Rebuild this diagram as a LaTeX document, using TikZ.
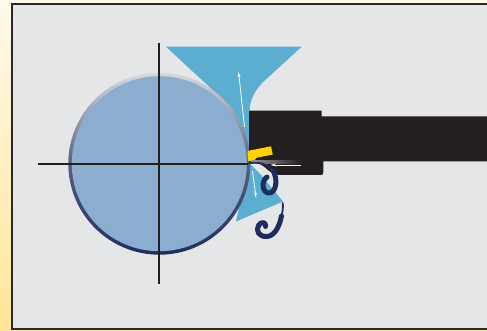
\documentclass[tikz,border=0pt]{standalone}
\usetikzlibrary{arrows.meta}
\definecolor{cream}{HTML}{FFF9EC}
\definecolor{sand}{HTML}{FFE597}
\definecolor{panel}{HTML}{E5E6E8}
\definecolor{frameline}{HTML}{2A2828}
\definecolor{coolant}{HTML}{5BAECF}
\definecolor{work}{HTML}{8BAED0}
\definecolor{ringtop}{HTML}{D8D9DE}
\definecolor{ringmid}{HTML}{5A5F80}
\definecolor{navy}{HTML}{1F2D5E}
\definecolor{holder}{HTML}{231F20}
\definecolor{insert}{HTML}{FFD200}
\tikzset{
  axis/.style={draw=holder, line width=1.9pt},
  flowarrow/.style={draw=white, line width=0.8pt, -{Stealth[length=5.5pt,width=2.8pt]}},
  chip/.style={draw=navy, line cap=round, line join=round},
}
\begin{document}
\begin{tikzpicture}[x=1pt,y=-1pt]
  \useasboundingbox (0,0) rectangle (487,331);
  % page background and panel
  \shade[top color=cream, bottom color=sand] (0,0) rectangle (487,331);
  \filldraw[fill=panel, draw=frameline, line width=1.6pt] (11.7,4) rectangle (495,329.2);

  \coordinate (c) at (159.3,163.7);

  % coolant jets
  \fill[coolant] (166,46.7) -- (301.7,46.7) -- (262,83)
     .. controls (254,92) and (250,100) .. (249.5,111)
     -- (249,160) -- (215,160) -- (220,120) -- (231.5,107.5) -- cycle;
  \fill[coolant] (249,163) -- (236,221.5) -- (283,201.5) -- (262,176) -- cycle;

  % workpiece with shaded rim
  \shade[top color=ringtop, bottom color=navy, middle color=ringmid]
     (c) circle[radius=91pt];
  \fill[work] (c) circle[radius=87.5pt];

  % centre lines
  \draw[axis] (38.3,163.7) -- (248,163.7);
  \draw[axis] (159.3,42.7) -- (159.3,284);

  % tool holder and shank
  \fill[holder] (249,110.7) -- (321.7,110.7) -- (321.7,116.3) -- (495,116.3)
     -- (495,161.3) -- (323.3,161.3) -- (323.3,172.3)
     .. controls (323.3,174.5) and (322.5,175) .. (320.5,175)
     -- (280,175) .. controls (268,175) and (265,163.3) .. (256,163.3)
     -- (249,163.3) -- cycle;
  % cutting insert
  \fill[insert] (247.5,151) -- (271,146.3) -- (272.8,154.5) -- (256.5,157.8)
     -- (254,161) -- (248,161) -- cycle;
  % fading edge line below the insert
  \shade[left color=gray!80, right color=holder] (251,160.8) rectangle (302,163.2);

  % chips
  \draw[chip, line width=1.8pt] (249,163.3) .. controls (259,161.5) and (269,164) .. (273.5,171.5);
  \draw[chip, line width=5pt] (273.5,171.5) .. controls (278,180) and (276,193) .. (269,193)
     .. controls (262,193) and (261,181) .. (267,177);
  \draw[chip, line width=1.8pt] (282.8,203) .. controls (283.2,208) and (282.5,212) .. (281.5,216);
  \draw[chip, line width=5pt] (281.5,216) .. controls (279,228) and (274,236) .. (267,236.5)
     .. controls (259,237) and (255.5,231) .. (258.5,225.5)
     .. controls (261,221) and (266.5,222) .. (265.5,226.5);

  % flow arrows
  \draw[flowarrow] (244.5,127) -- (238.6,72);
  \draw[flowarrow] (252.5,171) -- (256,198);
  \draw[flowarrow] (301,165) -- (270.5,165);
\end{tikzpicture}
\end{document}
